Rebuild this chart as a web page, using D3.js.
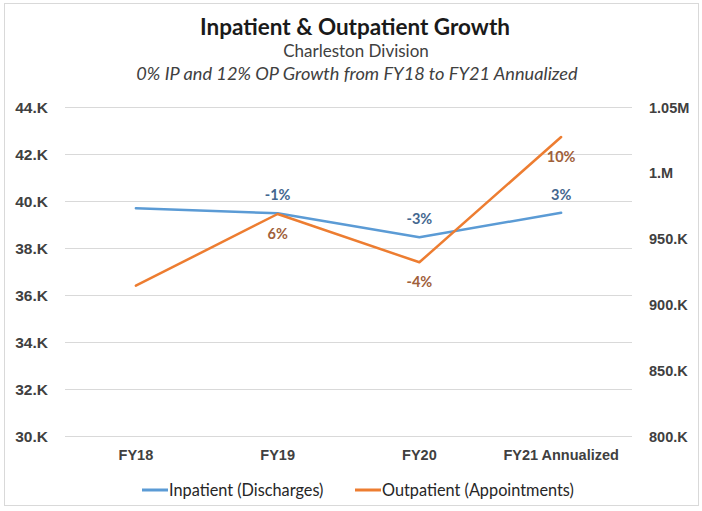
<!DOCTYPE html>
<html>
<head>
<meta charset="utf-8">
<script src="https://cdn.jsdelivr.net/npm/d3@7"></script>
<style>
  html, body { margin: 0; padding: 0; background: #fff; }
  svg { display: block; font-family: Lato, "Open Sans", sans-serif; }
</style>
</head>
<body>
<svg id="chart" width="702" height="511"></svg>
<script>
const categories = ["FY18", "FY19", "FY20", "FY21 Annualized"];
const inpatient = [39690, 39480, 38460, 39500];
const outpatient = [914200, 968700, 932000, 1027200];
const inpatientLabels = ["", "-1%", "-3%", "3%"];
const outpatientLabels = ["", "6%", "-4%", "10%"];
const leftTicks = [30000, 32000, 34000, 36000, 38000, 40000, 42000, 44000];
const rightTicks = [800000, 850000, 900000, 950000, 1000000, 1050000];
const seriesNames = ["Inpatient (Discharges)", "Outpatient (Appointments)"];
const titleText = "Inpatient & Outpatient Growth";
const subtitleText = "Charleston Division";
const subtitle2Text = "0% IP and 12% OP Growth from FY18 to FY21 Annualized";

const svg = d3.select("#chart");
const m = { left: 65, right: 632, top: 107, bottom: 436 };
const blue = "#5B9BD5", orange = "#ED7D31";
const textCol = "#404040";

// outer border
svg.append("rect").attr("x", 4.5).attr("y", 3.5).attr("width", 694).attr("height", 502)
  .attr("fill", "#fff").attr("stroke", "#d9d9d9").attr("stroke-width", 1);

const x = d3.scaleBand().domain(categories).range([m.left, m.right]).padding(0);
const yL = d3.scaleLinear().domain([30000, 44000]).range([m.bottom, m.top]);
const yR = d3.scaleLinear().domain([800000, 1050000]).range([m.bottom, m.top]);
const cx = d => x(d) + x.bandwidth() / 2;

// gridlines
const grid = svg.append("g").attr("transform", `translate(${m.left},0)`)
  .call(d3.axisLeft(yL).tickValues(leftTicks).tickSize(-(m.right - m.left)).tickFormat(""));
grid.select(".domain").remove();
grid.selectAll("line").attr("stroke", "#d9d9d9").attr("stroke-width", 1);

// left axis
const fmtL = d => (d / 1000) + ".K";
const gl = svg.append("g").attr("transform", `translate(48,0)`)
  .call(d3.axisLeft(yL).tickValues(leftTicks).tickSize(0).tickPadding(0).tickFormat(fmtL));
gl.select(".domain").remove();
gl.selectAll("text").attr("fill", textCol).style("font-size", "15.5px").style("font-weight", "bold")
  .attr("dy", "0.35em");

// right axis
const fmtR = d => d >= 1000000 ? (d / 1000000) + (Number.isInteger(d / 1000000) ? "." : "") + "M" : (d / 1000) + ".K";
const gr = svg.append("g").attr("transform", `translate(649,0)`)
  .call(d3.axisRight(yR).tickValues(rightTicks).tickSize(0).tickPadding(0).tickFormat(fmtR));
gr.select(".domain").remove();
gr.selectAll("text").attr("fill", textCol).style("font-size", "14.5px").style("font-weight", "bold")
  .attr("dy", "0.35em");

// x axis labels
const gx = svg.append("g").attr("transform", `translate(0,450)`)
  .call(d3.axisBottom(x).tickSize(0).tickPadding(0));
gx.select(".domain").remove();
gx.selectAll("text").attr("fill", textCol).style("font-size", "14.5px").style("font-weight", "bold")
  .attr("dy", "0.71em");

// lines
const lineL = d3.line().x((d, i) => cx(categories[i])).y(d => yL(d));
const lineR = d3.line().x((d, i) => cx(categories[i])).y(d => yR(d));
svg.append("path").datum(inpatient).attr("d", lineL).attr("fill", "none")
  .attr("stroke", blue).attr("stroke-width", 2.5).attr("stroke-linejoin", "round").attr("stroke-linecap", "round");
svg.append("path").datum(outpatient).attr("d", lineR).attr("fill", "none")
  .attr("stroke", orange).attr("stroke-width", 2.5).attr("stroke-linejoin", "round").attr("stroke-linecap", "round");

// data labels
svg.append("g").selectAll("text").data(inpatient).join("text")
  .attr("x", (d, i) => cx(categories[i]))
  .attr("y", d => yL(d) - 18)
  .attr("dy", "0.35em").attr("text-anchor", "middle")
  .attr("fill", "#44678f").style("font-size", "14.5px").style("font-weight", "bold")
  .text((d, i) => inpatientLabels[i]);
svg.append("g").selectAll("text").data(outpatient).join("text")
  .attr("x", (d, i) => cx(categories[i]))
  .attr("y", d => yR(d) + 20)
  .attr("dy", "0.35em").attr("text-anchor", "middle")
  .attr("fill", "#a0603a").style("font-size", "14.5px").style("font-weight", "bold")
  .text((d, i) => outpatientLabels[i]);

// titles
svg.append("text").attr("x", 355).attr("y", 27).attr("dy", "0.35em").attr("text-anchor", "middle")
  .attr("fill", "#1a1a1a").style("font-size", "22.5px").style("font-weight", "bold").text(titleText);
svg.append("text").attr("x", 356).attr("y", 51).attr("dy", "0.35em").attr("text-anchor", "middle")
  .attr("fill", textCol).style("font-size", "17px").text(subtitleText);
svg.append("text").attr("x", 357).attr("y", 74).attr("dy", "0.35em").attr("text-anchor", "middle")
  .attr("fill", textCol).style("font-size", "18.2px").style("font-style", "italic").text(subtitle2Text);

// legend
const legend = [
  { name: seriesNames[0], color: blue, x: 142 },
  { name: seriesNames[1], color: orange, x: 355 }
];
const lg = svg.append("g").selectAll("g").data(legend).join("g")
  .attr("transform", d => `translate(${d.x},490)`);
lg.append("line").attr("x1", 0).attr("x2", 26).attr("y1", 0).attr("y2", 0)
  .attr("stroke", d => d.color).attr("stroke-width", 3);
lg.append("text").attr("x", 27).attr("dy", "0.35em").attr("fill", "#262626")
  .style("font-size", "16.3px").text(d => d.name);
</script>
</body>
</html>
